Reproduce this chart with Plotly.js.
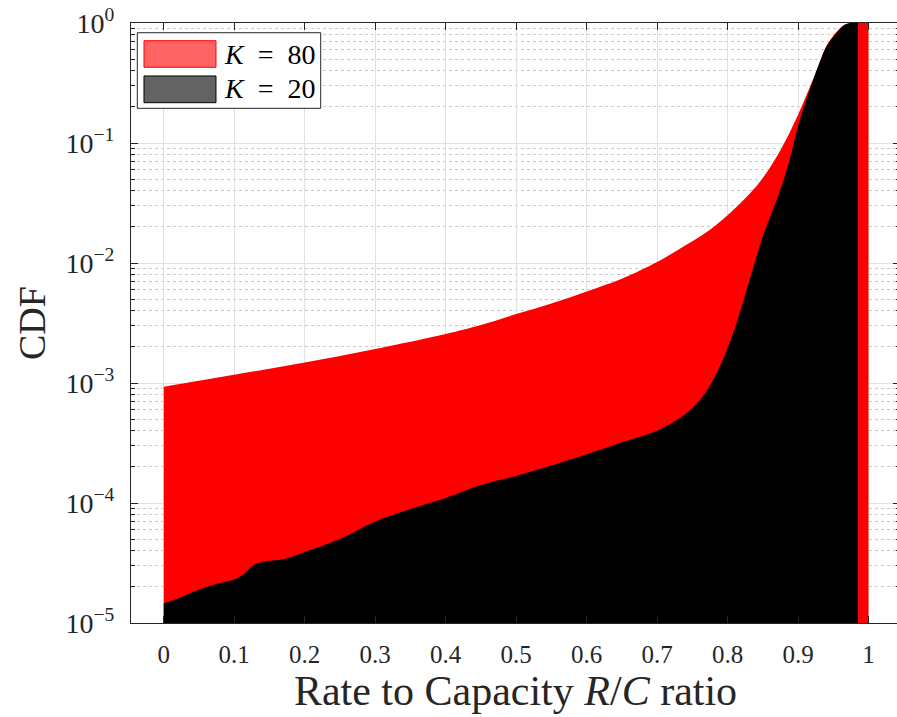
<!DOCTYPE html>
<html>
<head>
<meta charset="utf-8">
<script src="https://cdn.plot.ly/plotly-3.0.1.min.js"></script>
<style>
html,body{margin:0;padding:0;overflow:hidden;background:#fff;}
#chart{width:910px;height:717px;}
</style>
</head>
<body>
<div id="chart"></div>
<script>
// K = 80 CDF
const k80X = [0, 0.1, 0.2, 0.3, 0.4, 0.45, 0.5, 0.55, 0.6, 0.65, 0.7, 0.73, 0.77, 0.8, 0.83, 0.85, 0.875, 0.9, 0.927, 0.94, 0.955, 0.965, 0.975, 0.985, 1.0];
const k80Y = [9.3e-4, 1.17e-3, 1.48e-3, 1.92e-3, 2.56e-3, 3.04e-3, 3.75e-3, 4.6e-3, 5.8e-3, 7.4e-3, 1.02e-2, 1.29e-2, 1.8e-2, 2.5e-2, 3.7e-2, 5.1e-2, 8.7e-2, 0.172, 0.41, 0.64, 0.85, 0.96, 1.0, 1.0, 1.0];
// K = 20 CDF
const k20X = [0, 0.02, 0.05, 0.08, 0.1, 0.115, 0.13, 0.15, 0.17, 0.2, 0.25, 0.3, 0.35, 0.4, 0.45, 0.5, 0.55, 0.6, 0.65, 0.7, 0.73, 0.75, 0.77, 0.79, 0.81, 0.83, 0.85, 0.87, 0.88, 0.89, 0.9, 0.92, 0.94, 0.955, 0.965, 0.975, 0.985];
const k20Y = [1.46e-5, 1.6e-5, 1.9e-5, 2.15e-5, 2.3e-5, 2.6e-5, 3.1e-5, 3.3e-5, 3.4e-5, 3.9e-5, 5.0e-5, 7.0e-5, 8.9e-5, 1.1e-4, 1.41e-4, 1.68e-4, 2.05e-4, 2.55e-4, 3.2e-4, 4.0e-4, 5.0e-4, 6.2e-4, 8.5e-4, 1.41e-3, 2.8e-3, 6.8e-3, 1.66e-2, 3.4e-2, 5.0e-2, 8.0e-2, 0.138, 0.316, 0.63, 0.83, 0.96, 1.0, 1.0];

const seriesNames = ['K = 80', 'K = 20'];
const xTickVals = [0, 0.1, 0.2, 0.3, 0.4, 0.5, 0.6, 0.7, 0.8, 0.9, 1];
const xTickText = ['0', '0.1', '0.2', '0.3', '0.4', '0.5', '0.6', '0.7', '0.8', '0.9', '1'];
const yTickVals = [1e-5, 1e-4, 1e-3, 1e-2, 1e-1, 1];
const yTickText = ['10<sup>−5</sup>', '10<sup>−4</sup>', '10<sup>−3</sup>', '10<sup>−2</sup>', '10<sup>−1</sup>', '10<sup>0</sup>'];

const minorVals = [];
for (let e = -5; e < 0; e++) { for (let m = 2; m <= 9; m++) minorVals.push(m * Math.pow(10, e)); }

const FONT = 'Liberation Serif, Times New Roman, serif';

const traces = [
  {x: k80X, y: k80Y, type: 'scatter', mode: 'lines', name: seriesNames[0],
   line: {color: '#ff0000', width: 0, shape: 'spline', smoothing: 1}, fill: 'tozeroy', fillcolor: '#ff0000', showlegend: false, hoverinfo: 'skip'},
  {x: k20X, y: k20Y, type: 'scatter', mode: 'lines', name: seriesNames[1],
   line: {color: '#000000', width: 0, shape: 'spline', smoothing: 0.8}, fill: 'tozeroy', fillcolor: '#000000', showlegend: false, hoverinfo: 'skip'}
];

const axisCommon = {
  showline: true, linecolor: '#262626', linewidth: 1, mirror: 'ticks',
  ticks: 'inside', ticklen: 7, tickcolor: '#262626', tickwidth: 1,
  showgrid: true, gridcolor: '#e1e1e1', gridwidth: 1, zeroline: false,
  tickfont: {family: FONT, size: 25, color: '#262626'}
};

const layout = {
  width: 910, height: 717,
  margin: {l: 131, r: 10, t: 23, b: 94},
  paper_bgcolor: '#ffffff', plot_bgcolor: '#ffffff',
  showlegend: false,
  xaxis: Object.assign({}, axisCommon, {
    range: [-0.0465, 1.0447], tickmode: 'array', tickvals: xTickVals, ticktext: xTickText,
    ticklabelstandoff: 9,
    title: {text: 'Rate to Capacity <i>R</i>/<i>C</i> ratio', font: {family: FONT, size: 42, color: '#262626'}, standoff: 2}
  }),
  yaxis: Object.assign({}, axisCommon, {
    type: 'log', range: [-5, 0], tickmode: 'array', tickvals: yTickVals, ticktext: yTickText,
    ticklabelstandoff: 10,
    tickfont: {family: FONT, size: 28, color: '#262626'},
    minor: {tickmode: 'array', tickvals: minorVals, showgrid: true, griddash: 'dot', gridcolor: '#c8c8c8', gridwidth: 1,
            ticks: 'inside', ticklen: 4, tickcolor: '#262626'},
    title: {text: 'CDF', font: {family: FONT, size: 38, color: '#262626'}, standoff: 8}
  }),
  shapes: [
    {type: 'rect', xref: 'paper', yref: 'paper', x0: 0.0082, x1: 0.2467, y0: 0.8578, y1: 0.9838,
     line: {color: '#262626', width: 1}, fillcolor: '#ffffff'},
    {type: 'rect', xref: 'paper', yref: 'paper', x0: 0.0169, x1: 0.1105, y0: 0.9262, y1: 0.9705,
     line: {color: '#ff0000', width: 1}, fillcolor: 'rgb(255,99,99)'},
    {type: 'rect', xref: 'paper', yref: 'paper', x0: 0.0169, x1: 0.1105, y0: 0.8672, y1: 0.9117,
     line: {color: '#000000', width: 1}, fillcolor: 'rgb(99,99,99)'}
  ],
  annotations: [
    {xref: 'paper', yref: 'paper', x: 0.1179, y: 0.9483, xanchor: 'left', yanchor: 'middle', showarrow: false,
     text: '<i>K</i>  =  80', font: {family: FONT, size: 28, color: '#000'}},
    {xref: 'paper', yref: 'paper', x: 0.1179, y: 0.89, xanchor: 'left', yanchor: 'middle', showarrow: false,
     text: '<i>K</i>  =  20', font: {family: FONT, size: 28, color: '#000'}}
  ]
};

Plotly.newPlot('chart', traces, layout, {staticPlot: true, displayModeBar: false});
</script>
</body>
</html>
